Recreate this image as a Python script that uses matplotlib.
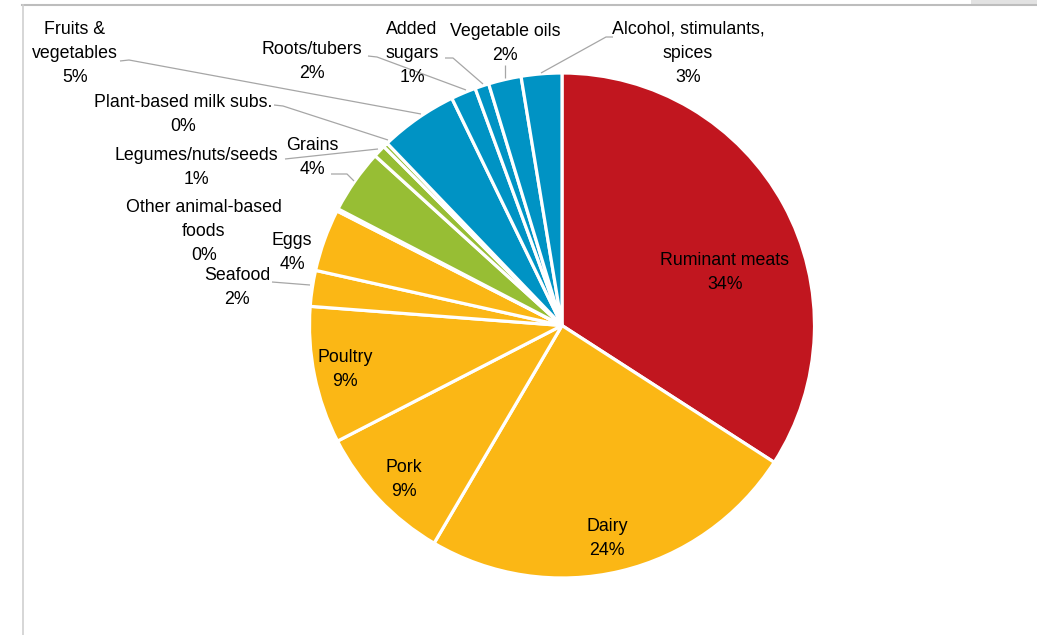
import matplotlib
matplotlib.use("Agg")
import matplotlib.pyplot as plt
from matplotlib.patches import Rectangle

categories = ["Ruminant meats", "Dairy", "Pork", "Poultry", "Seafood", "Eggs",
              "Other animal-based\nfoods", "Grains", "Legumes/nuts/seeds",
              "Plant-based milk subs.", "Fruits &\nvegetables", "Roots/tubers",
              "Added\nsugars", "Vegetable oils", "Alcohol, stimulants,\nspices"]
values = [34.2, 24.4, 9.0, 8.8, 2.3, 4.0, 0.15, 4.1, 0.8, 0.3, 5.0, 1.6, 0.9, 2.1, 2.6]
groups = ["red", "yellow", "yellow", "yellow", "yellow", "yellow", "yellow",
          "green", "green", "green", "blue", "blue", "blue", "blue", "blue"]

palette = {"red": "#C1161F", "yellow": "#FBB715", "green": "#97BE34", "blue": "#0093C4"}

W, H = 1037, 635
fig = plt.figure(figsize=(W / 100, H / 100), dpi=100)
ax = fig.add_axes([0, 0, 1, 1])

def Y(y):
    return H - y

cx, cy, r = 562, 325.5, 252.5
ax.pie(values, colors=[palette[g] for g in groups], startangle=90, counterclock=False,
       center=(cx, Y(cy)), radius=r, frame=True,
       wedgeprops=dict(edgecolor="white", linewidth=2.3))
ax.set_xlim(0, W)
ax.set_ylim(0, H)
ax.set_aspect("equal")
ax.axis("off")

FONT = dict(family="Liberation Sans", fontsize=12.8, color="black",
            ha="center", va="center")
LINE = 24   # px between text lines
SHIFT = 1.5  # baseline compensation

# label layout (pixel positions of text centres)
label_pos = [(725, 271), (607, 537), (404, 478), (345, 368), (237, 286), (292, 251),
             (204, 230), (312, 156), (196, 166), (183, 113), (75, 52), (312, 60),
             (412, 52), (505, 42), (688, 52)]
for name, v, (x, y) in zip(categories, values, label_pos):
    lines = name.split("\n") + [f"{v:.0f}%"]
    n = len(lines)
    for i, s in enumerate(lines):
        yy = y + (i - (n - 1) / 2) * LINE + SHIFT
        ax.text(x, Y(yy), s, **FONT)

# leader lines
leaders = [
    [(272, 282), (310, 285)],                        # Seafood
    [(331, 174), (347, 174), (354, 181)],            # Grains
    [(285, 159), (378, 149)],                        # Legumes
    [(274, 105), (283, 106), (388, 140)],            # Plant-based milk
    [(120, 61), (129, 60), (421, 114)],              # Fruits & veg
    [(368, 56), (377, 57), (466, 90)],               # Roots
    [(445, 58), (453, 58), (483, 84)],               # Added sugars
    [(505, 65), (505, 78)],                          # Vegetable oils
    [(613, 37), (606, 37), (541, 73)],               # Alcohol
]
for pts in leaders:
    xs = [p[0] for p in pts]
    ys = [Y(p[1]) for p in pts]
    ax.plot(xs, ys, color="#a6a6a6", lw=0.9, solid_capstyle="butt")

# frame
ax.plot([22, W], [Y(5), Y(5)], color="#bdbdbd", lw=1.5)
ax.plot([23, 23], [Y(5), 0], color="#cfcfcf", lw=1.2)
ax.add_patch(Rectangle((971, Y(5)), W - 971, 5, color="#e2e2e2", lw=0))

fig.savefig("out.png", dpi=100)
